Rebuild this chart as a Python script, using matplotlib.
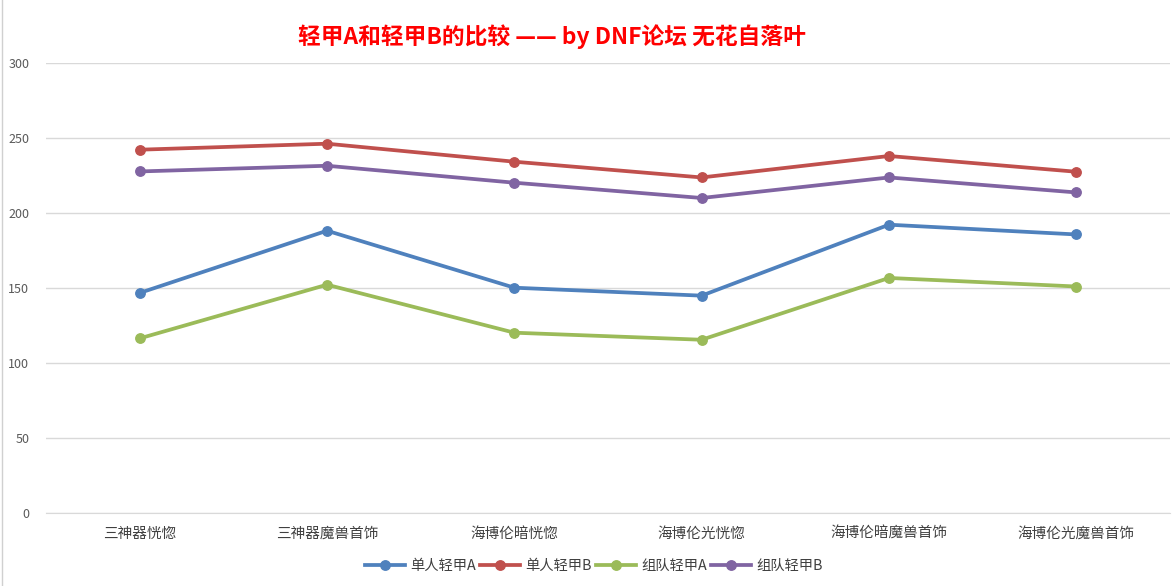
import matplotlib
matplotlib.use("Agg")
import matplotlib.pyplot as plt
from matplotlib.lines import Line2D

plt.rcParams['font.family'] = ['Noto Sans CJK SC', 'DejaVu Sans']

categories = ['三神器恍惚', '三神器魔兽首饰', '海博伦暗恍惚', '海博伦光恍惚', '海博伦暗魔兽首饰', '海博伦光魔兽首饰']
single_a = [146.7, 188.2, 150.2, 144.9, 192.2, 185.7]
single_b = [242.2, 246.2, 234.2, 223.7, 238.0, 227.5]
team_a = [116.4, 152.2, 120.2, 115.5, 156.7, 151.0]
team_b = [227.7, 231.5, 220.2, 210.0, 223.7, 213.7]
series_names = ['单人轻甲A', '单人轻甲B', '组队轻甲A', '组队轻甲B']
colors = ['#4F81BD', '#C0504D', '#9BBB59', '#8064A2']
yticks = [0, 50, 100, 150, 200, 250, 300]
title = '轻甲A和轻甲B的比较 —— by DNF论坛 无花自落叶'

W, H = 1176, 586
fig = plt.figure(figsize=(W / 100, H / 100), dpi=100)
ax = fig.add_axes([46 / W, 1 - 513 / H, (1170 - 46) / W, (513 - 63) / H])

x = list(range(len(categories)))
for vals, c, name in zip([single_a, single_b, team_a, team_b], colors, series_names):
    ax.plot(x, vals, color=c, lw=2.7, marker='o', markersize=6.8, label=name,
            solid_capstyle='round', solid_joinstyle='round', zorder=3)

ax.set_xlim(-0.5, len(categories) - 0.5)
ax.set_ylim(0, 300)
ax.set_yticks(yticks)
ax.set_yticklabels([str(v) for v in yticks], fontsize=9, color='#595959')
ax.set_xticks(x)
ax.set_xticklabels(categories, fontsize=10.5, color='#404040')
ax.tick_params(axis='both', length=0)
ax.tick_params(axis='y', pad=12)
ax.tick_params(axis='x', pad=10)
ax.grid(axis='y', color='#D9D9D9', lw=1)
ax.set_axisbelow(True)
for s in ['top', 'right', 'left']:
    ax.spines[s].set_visible(False)
ax.spines['bottom'].set_color('#D9D9D9')

fig.text(552 / W, 1 - 37 / H, title, color='#FF0000', fontsize=16.4, fontweight='bold',
         ha='center', va='center')

handles = [Line2D([0], [0], color=c, lw=2.7, marker='o', markersize=6.8) for c in colors]
fig.legend(handles, series_names, loc='center', bbox_to_anchor=(594 / W, 1 - 566 / H),
           ncol=4, frameon=False, fontsize=10.3, handlelength=2.8, handletextpad=0.35,
           columnspacing=0.3, labelcolor='#404040')

fig.add_artist(Line2D([2 / W, 2 / W], [0, 1], color='#D0D0D0', lw=1))

fig.savefig('out.png', dpi=100, facecolor='white')
